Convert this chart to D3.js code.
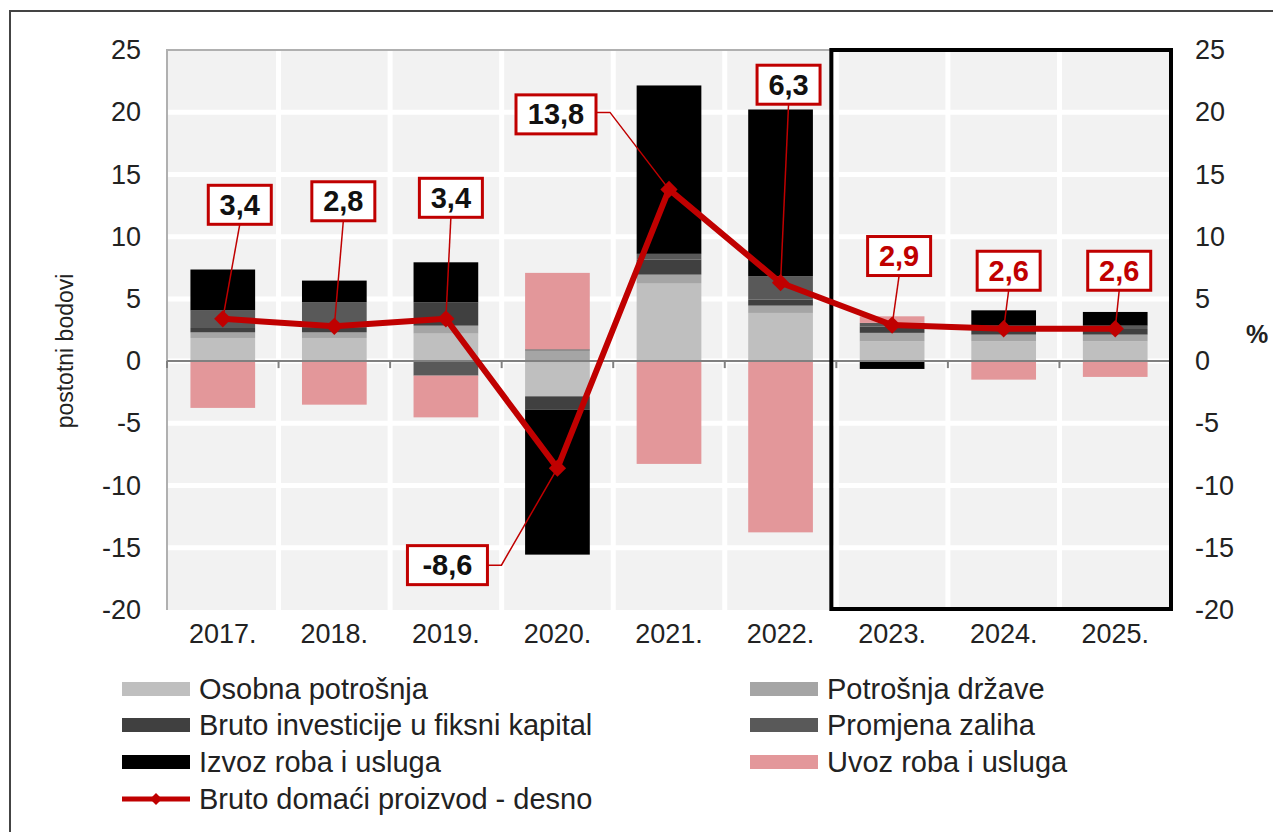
<!DOCTYPE html>
<html>
<head>
<meta charset="utf-8">
<script src="https://cdn.jsdelivr.net/npm/d3@7"></script>
<style>
  body { margin: 0; background: #fff; }
  text { font-family: "Liberation Sans", Arial, sans-serif; }
</style>
</head>
<body>
<svg id="chart" width="1273" height="832"></svg>
<script>
// --- data (postotni bodovi / %) ---
var years = ['2017.', '2018.', '2019.', '2020.', '2021.', '2022.', '2023.', '2024.', '2025.']
var osobna = [1.86, 1.86, 2.21, -2.83, 6.23, 3.87, 1.59, 1.59, 1.59]
var drzava = [0.45, 0.45, 0.64, 0.85, 0.72, 0.59, 0.68, 0.54, 0.54]
var investicije = [0.35, 0.35, 1.88, -1.07, 1.2, 0.5, 0.5, 0.5, 0.45]
var zalihe = [1.42, 2.07, -1.17, 0.1, 0.47, 1.86, 0.3, 0.22, 0.27]
var izvoz = [3.28, 1.74, 3.21, -11.65, 13.53, 13.4, -0.63, 1.23, 1.1]
var uvoz = [-3.76, -3.5, -3.35, 6.14, -8.26, -13.76, 0.53, -1.49, -1.27]
var bdp = [3.4, 2.8, 3.4, -8.6, 13.8, 6.3, 2.9, 2.6, 2.6]
var bdpLabels = ['3,4', '2,8', '3,4', '-8,6', '13,8', '6,3', '2,9', '2,6', '2,6']
var yTicks = [25, 20, 15, 10, 5, 0, -5, -10, -15, -20]

var seriesNames = ['Osobna potrošnja', 'Potrošnja države', 'Bruto investicije u fiksni kapital',
  'Promjena zaliha', 'Izvoz roba i usluga', 'Uvoz roba i usluga']
var seriesValues = [osobna, drzava, investicije, zalihe, izvoz, uvoz]
var seriesColors = ['#bfbfbf', '#a5a5a5', '#404040', '#595959', '#000000', '#e3979a']
var lineName = 'Bruto domaći proizvod - desno'
var red = '#c00000'

// label placement (pixel offsets of the box centre from its point)
var labelOffsets = [[17, -114], [9, -125], [5, -121], [-110, 97], [-113, -75], [8, -198], [7, -69], [5, -58], [4, -58]]

var svg = d3.select('#chart')

// outer frame
svg.append('rect')
  .attr('x', 10).attr('y', 11).attr('width', 1300).attr('height', 900)
  .attr('fill', 'none').attr('stroke', '#444').attr('stroke-width', 2)

var plotLeft = 167, plotRight = 1171, plotTop = 50, plotBottom = 610

var x = d3.scaleBand().domain(years).range([plotLeft, plotRight])
  .paddingInner(0.42).paddingOuter(0.21)
var y = d3.scaleLinear().domain([-20, 25]).range([plotBottom, plotTop])
var boundary = function (i) { return plotLeft + i * ((plotRight - plotLeft) / years.length) }

// plot background
svg.append('rect')
  .attr('x', plotLeft).attr('y', plotTop).attr('width', plotRight - plotLeft).attr('height', plotBottom - plotTop)
  .attr('fill', '#f2f2f2')

// white grid
svg.append('g').selectAll('line')
  .data(yTicks.filter(function (d) { return d !== 25 && d !== -20 }))
  .enter().append('line')
  .attr('x1', plotLeft).attr('x2', plotRight)
  .attr('y1', function (d) { return y(d) }).attr('y2', function (d) { return y(d) })
  .attr('stroke', '#fff').attr('stroke-width', 5)

svg.append('g').selectAll('line')
  .data(d3.range(1, years.length))
  .enter().append('line')
  .attr('x1', function (i) { return boundary(i) }).attr('x2', function (i) { return boundary(i) })
  .attr('y1', plotTop).attr('y2', plotBottom)
  .attr('stroke', '#fff').attr('stroke-width', 5)

// plot border (left + top light gray)
svg.append('path')
  .attr('d', 'M' + plotLeft + ',' + plotBottom + 'V' + plotTop + 'H' + plotRight)
  .attr('fill', 'none').attr('stroke', '#b0b0b0').attr('stroke-width', 2)

// stacked bars
var rows = years.map(function (yr, i) {
  var r = { year: yr }
  seriesNames.forEach(function (n, k) { r[n] = seriesValues[k][i] })
  return r
})
var stacked = d3.stack().keys(seriesNames).offset(d3.stackOffsetDiverging)(rows)

svg.append('g').selectAll('g')
  .data(stacked)
  .enter().append('g')
  .attr('fill', function (d, k) { return seriesColors[k] })
  .selectAll('rect')
  .data(function (d) { return d })
  .enter().append('rect')
  .attr('x', function (d) { return x(d.data.year) })
  .attr('width', x.bandwidth())
  .attr('y', function (d) { return y(Math.max(d[0], d[1])) })
  .attr('height', function (d) { return Math.abs(y(d[0]) - y(d[1])) })

// zero axis with ticks at category boundaries
svg.append('line')
  .attr('x1', plotLeft).attr('x2', plotRight).attr('y1', y(0)).attr('y2', y(0))
  .attr('stroke', '#808080').attr('stroke-width', 2)
svg.append('g').selectAll('line')
  .data(d3.range(0, years.length + 1))
  .enter().append('line')
  .attr('x1', function (i) { return boundary(i) }).attr('x2', function (i) { return boundary(i) })
  .attr('y1', y(0)).attr('y2', y(0) + 7)
  .attr('stroke', '#808080').attr('stroke-width', 2)

// projection box 2023-2025
svg.append('rect')
  .attr('x', boundary(6) - 5).attr('y', plotTop)
  .attr('width', plotRight - boundary(6) + 5).attr('height', plotBottom - plotTop - 1)
  .attr('fill', 'none').attr('stroke', '#000').attr('stroke-width', 4)

// axes (plain hyphen for negatives, like the original)
var fmt = function (d) { return String(d) }
var yLeft = d3.axisLeft(y).tickValues(yTicks).tickSize(0).tickPadding(26).tickFormat(fmt)
var gl = svg.append('g').attr('transform', 'translate(' + plotLeft + ',0)').call(yLeft)
var yRight = d3.axisRight(y).tickValues(yTicks).tickSize(0).tickPadding(24).tickFormat(fmt)
var gr = svg.append('g').attr('transform', 'translate(' + plotRight + ',0)').call(yRight)
var xAxis = d3.axisBottom(x).tickSize(0).tickPadding(14)
var gx = svg.append('g').attr('transform', 'translate(0,' + plotBottom + ')').call(xAxis)
;[gl, gr, gx].forEach(function (g) {
  g.select('.domain').remove()
  g.selectAll('text').attr('font-size', 27).attr('fill', '#222')
    .style('font-family', '"Liberation Sans", Arial, sans-serif')
})

svg.append('text')
  .attr('transform', 'translate(73,351) rotate(-90)')
  .attr('text-anchor', 'middle')
  .attr('font-size', 23).attr('fill', '#222')
  .text('postotni bodovi')
svg.append('text')
  .attr('x', 1246).attr('y', 343)
  .attr('font-size', 25).attr('font-weight', 'bold').attr('fill', '#222')
  .text('%')

// GDP line
var cx = function (i) { return x(years[i]) + x.bandwidth() / 2 }
var line = d3.line().x(function (d, i) { return cx(i) }).y(function (d) { return y(d) })
svg.append('path')
  .datum(bdp)
  .attr('d', line)
  .attr('fill', 'none').attr('stroke', red).attr('stroke-width', 6)
  .attr('stroke-linejoin', 'round')

// data labels with leaders
var labels = svg.append('g')
bdp.forEach(function (v, i) {
  var px = cx(i), py = y(v)
  var bx = px + labelOffsets[i][0], by = py + labelOffsets[i][1]
  var w = bdpLabels[i].length > 3 ? 80 : 63, h = 39
  var lead
  if (i === 3 || i === 4) {
    lead = 'M' + (bx + w / 2) + ',' + (by + (i === 4 ? -2 : 0)) + 'h14L' + px + ',' + py
  } else {
    lead = 'M' + bx + ',' + (by + h / 2) + 'L' + px + ',' + py
  }
  labels.append('path').attr('d', lead)
    .attr('fill', 'none').attr('stroke', red).attr('stroke-width', 1.5)
  labels.append('rect')
    .attr('x', bx - w / 2).attr('y', by - h / 2).attr('width', w).attr('height', h)
    .attr('fill', '#fff').attr('stroke', red).attr('stroke-width', 3)
  labels.append('text')
    .attr('x', bx).attr('y', by + 10)
    .attr('text-anchor', 'middle')
    .attr('font-size', 29).attr('font-weight', 'bold')
    .attr('fill', i >= 6 ? red : '#111')
    .text(bdpLabels[i])
})

// markers on top of line
svg.append('g').selectAll('path')
  .data(bdp)
  .enter().append('path')
  .attr('transform', function (d, i) { return 'translate(' + cx(i) + ',' + y(d) + ')' })
  .attr('d', d3.symbol(d3.symbolDiamond2).size(190))
  .attr('fill', red)

// legend
var legendPos = [[122, 689], [750, 689], [122, 725], [750, 725], [122, 762], [750, 762]]
var lg = svg.append('g')
seriesNames.forEach(function (n, k) {
  var p = legendPos[k]
  lg.append('rect').attr('x', p[0]).attr('y', p[1] - 7).attr('width', 68).attr('height', 14)
    .attr('fill', seriesColors[k])
  lg.append('text').attr('x', p[0] + 77).attr('y', p[1] + 10)
    .attr('font-size', 29).attr('fill', '#222').text(n)
})
lg.append('line').attr('x1', 122).attr('x2', 190).attr('y1', 799).attr('y2', 799)
  .attr('stroke', red).attr('stroke-width', 5)
lg.append('path').attr('transform', 'translate(156,799)')
  .attr('d', d3.symbol(d3.symbolDiamond2).size(90)).attr('fill', red)
lg.append('text').attr('x', 199).attr('y', 809)
  .attr('font-size', 29).attr('fill', '#222').text(lineName)
</script>
</body>
</html>
